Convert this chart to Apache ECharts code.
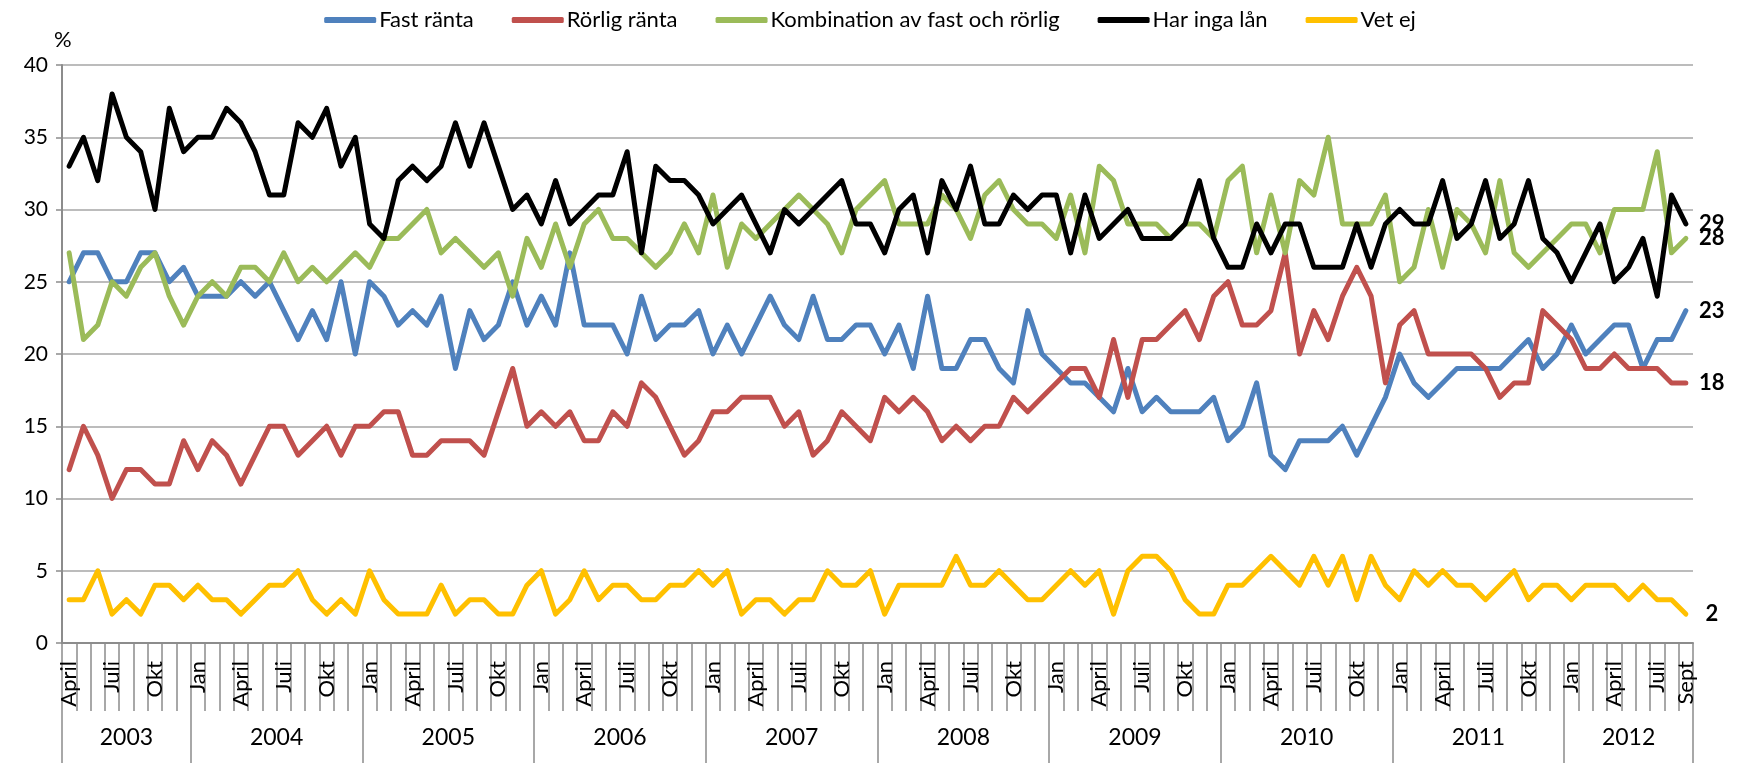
<!DOCTYPE html>
<html><head><meta charset="utf-8">
<script src="https://cdn.jsdelivr.net/npm/echarts@6/dist/echarts.min.js"></script>
<style>html,body{margin:0;padding:0;background:#fff}#c{width:1740px;height:763px}</style>
</head><body><div id="c"></div>
<script>
// Tick labels / categories
const monthNames = ['Jan','Feb','Mars','April','Maj','Juni','Juli','Aug','Sept','Okt','Nov','Dec'];
const labelledMonths = ['Jan','April','Juli','Okt'];
const years = ['2003','2004','2005','2006','2007','2008','2009','2010','2011','2012'];
const monthsPerYear = [9,12,12,12,12,12,12,12,12,9];
const firstMonthIndex = 3; // April 2003

// Series values (%), April 2003 – Sept 2012
const fastRanta = [25,27,27,25,25,27,27,25,26,24,24,24,25,24,25,23,21,23,21,25,
  20,25,24,22,23,22,24,19,23,21,22,25,22,24,22,27,22,22,22,
  20,24,21,22,22,23,20,22,20,22,24,22,21,24,21,21,22,22,20,22,
  19,24,19,19,21,21,19,18,23,20,19,18,18,17,16,19,16,17,16,
  16,16,17,14,15,18,13,12,14,14,14,15,13,15,17,20,18,17,18,19,
  19,19,19,20,21,19,20,22,20,21,22,22,19,21,21,23];
const rorligRanta = [12,15,13,10,12,12,11,11,14,12,14,13,11,13,15,15,13,14,15,13,
  15,15,16,16,13,13,14,14,14,13,16,19,15,16,15,16,14,14,16,
  15,18,17,15,13,14,16,16,17,17,17,15,16,13,14,16,15,14,17,16,
  17,16,14,15,14,15,15,17,16,17,18,19,19,17,21,17,21,21,22,
  23,21,24,25,22,22,23,27,20,23,21,24,26,24,18,22,23,20,20,20,
  20,19,17,18,18,23,22,21,19,19,20,19,19,19,18,18];
const kombination = [27,21,22,25,24,26,27,24,22,24,25,24,26,26,25,27,25,26,25,26,
  27,26,28,28,29,30,27,28,27,26,27,24,28,26,29,26,29,30,28,
  28,27,26,27,29,27,31,26,29,28,29,30,31,30,29,27,30,31,32,29,
  29,29,31,30,28,31,32,30,29,29,28,31,27,33,32,29,29,29,28,
  29,29,28,32,33,27,31,27,32,31,35,29,29,29,31,25,26,30,26,30,
  29,27,32,27,26,27,28,29,29,27,30,30,30,34,27,28];
const ingaLan = [33,35,32,38,35,34,30,37,34,35,35,37,36,34,31,31,36,35,37,33,
  35,29,28,32,33,32,33,36,33,36,33,30,31,29,32,29,30,31,31,
  34,27,33,32,32,31,29,30,31,29,27,30,29,30,31,32,29,29,27,30,
  31,27,32,30,33,29,29,31,30,31,31,27,31,28,29,30,28,28,28,
  29,32,28,26,26,29,27,29,29,26,26,26,29,26,29,30,29,29,32,28,
  29,32,28,29,32,28,27,25,27,29,25,26,28,24,31,29];
const vetEj = [3,3,5,2,3,2,4,4,3,4,3,3,2,3,4,4,5,3,2,3,
  2,5,3,2,2,2,4,2,3,3,2,2,4,5,2,3,5,3,4,
  4,3,3,4,4,5,4,5,2,3,3,2,3,3,5,4,4,5,2,4,
  4,4,4,6,4,4,5,4,3,3,4,5,4,5,2,5,6,6,5,
  3,2,2,4,4,5,6,5,4,6,4,6,3,6,4,3,5,4,5,4,
  4,3,4,5,3,4,4,3,4,4,4,3,4,3,3,2];

const seriesNames = ['Fast ränta','Rörlig ränta','Kombination av fast och rörlig','Har inga lån','Vet ej'];
const seriesColors = ['#4F81BD','#C0504D','#9BBB59','#000000','#FFC000'];
const seriesData = [fastRanta, rorligRanta, kombination, ingaLan, vetEj];

// Build category list
const categories = [];
const monthLabel = [];
const yearStart = [];
let idx = 0;
years.forEach((y, yi) => {
  yearStart.push(idx);
  const m0 = yi === 0 ? firstMonthIndex : 0;
  for (let j = 0; j < monthsPerYear[yi]; j++) {
    const mn = monthNames[m0 + j];
    categories.push(y + ' ' + mn);
    monthLabel.push(mn);
    idx++;
  }
});
const N = categories.length;
const showMonth = i => labelledMonths.indexOf(monthLabel[i]) >= 0 || i === N - 1;
const yearLabelAt = {};
years.forEach((y, yi) => {
  const s = yearStart[yi], c = monthsPerYear[yi];
  if (c % 2 === 1) yearLabelAt[s + (c - 1) / 2] = { text: y, shift: false };
  else yearLabelAt[s + c / 2 - 1] = { text: y, shift: true };
});
const yearBoundary = new Set(yearStart);

const FONT = 'Lato';
const chart = echarts.init(document.getElementById('c'), null, { renderer: 'canvas' });
const gray = '#8C8C8C';
chart.setOption({
  animation: false,
  textStyle: { fontFamily: FONT },
  legend: {
    top: 4, left: 'center',
    icon: 'roundRect', itemWidth: 52, itemHeight: 6, itemGap: 38,
    textStyle: { fontSize: 22, color: '#000', fontFamily: FONT, padding: [0,0,0,-2] },
    data: seriesNames
  },
  grid: { left: 62, right: 47, top: 65, bottom: 120, containLabel: false },
  xAxis: [{
    type: 'category', position: 'bottom', data: categories, boundaryGap: true,
    axisLine: { show: true, lineStyle: { color: gray, width: 2 } },
    axisTick: { show: true, interval: 0, length: 68, lineStyle: { color: gray, width: 1.5 } },
    axisLabel: {
      interval: (i) => showMonth(i), rotate: 90, margin: 18,
      fontSize: 22, color: '#000', fontFamily: FONT,
      formatter: (v, i) => monthLabel[i]
    },
    splitLine: { show: false }
  }, {
    type: 'category', position: 'bottom', data: categories, boundaryGap: true,
    axisLine: { show: false },
    axisTick: { show: true, interval: (i) => yearBoundary.has(i), length: 120, lineStyle: { color: gray, width: 1.5 } },
    axisLabel: {
      interval: (i) => yearLabelAt[i] !== undefined, margin: 83,
      fontSize: 23, color: '#000', fontFamily: FONT,
      formatter: (v, i) => { const o = yearLabelAt[i]; if (!o) return ''; return o.shift ? '{s|' + o.text + '}' : o.text; },
      rich: { s: { fontSize: 23, fontFamily: FONT, color: '#000', padding: [0,0,0,14.3] } }
    },
    splitLine: { show: false }
  }],
  yAxis: {
    type: 'value', min: 0, max: 40, interval: 5,
    name: '%', nameLocation: 'end', nameGap: 14,
    nameTextStyle: { fontSize: 22, color: '#000', align: 'left', fontFamily: FONT, padding: [0,0,0,-8] },
    axisLine: { show: true, lineStyle: { color: gray, width: 2 } },
    axisTick: { show: true, length: 6, lineStyle: { color: gray, width: 1.5 } },
    axisLabel: { fontSize: 21, color: '#000', margin: 14, fontFamily: FONT },
    splitLine: { show: true, lineStyle: { color: '#A6A6A6', width: 1.5 } }
  },
  series: seriesNames.map((name, si) => ({
    name, type: 'line', xAxisIndex: 0, data: seriesData[si],
    symbol: 'none', showSymbol: false,
    color: seriesColors[si],
    lineStyle: { width: 5, color: seriesColors[si], join: 'round', cap: 'round' },
    endLabel: {
      show: true, distance: 12, color: '#000',
      formatter: (p) => '{v|' + p.value + '}',
      rich: { v: { width: 28, align: 'center', fontSize: 22, fontWeight: 'bold', color: '#000', fontFamily: FONT } }
    }
  }))
});
</script></body></html>
